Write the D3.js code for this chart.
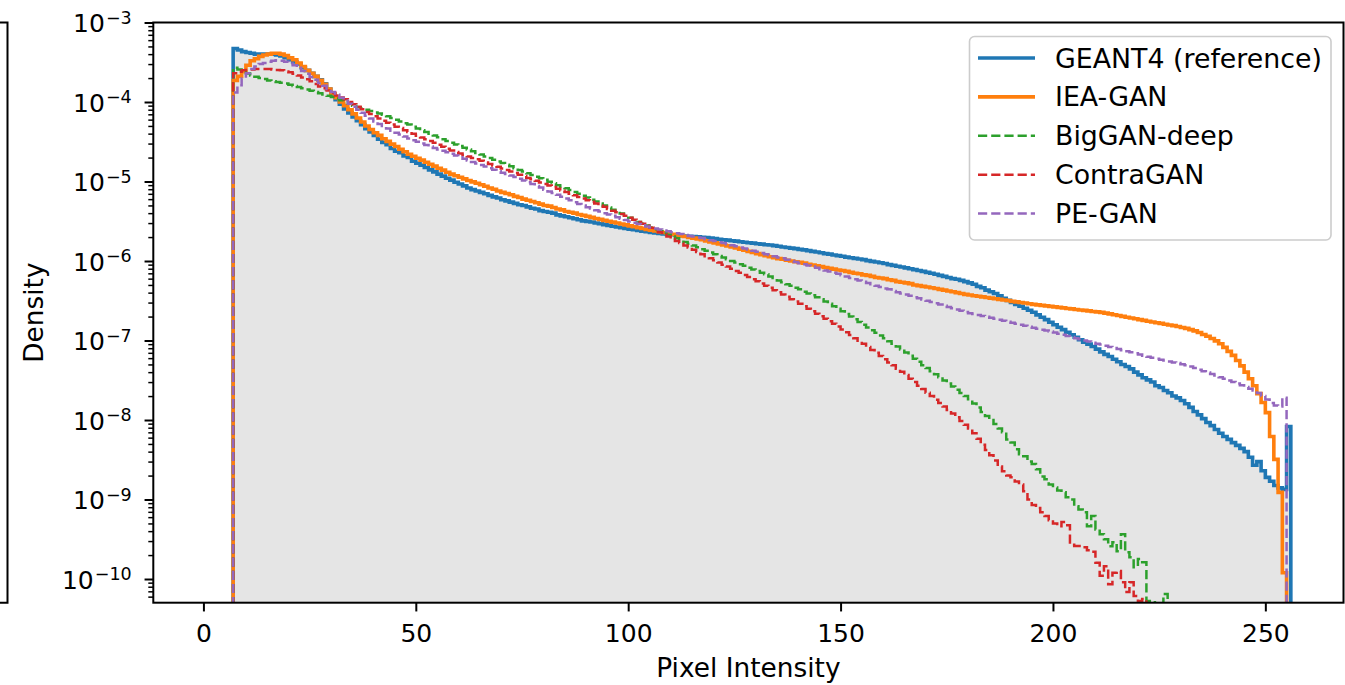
<!DOCTYPE html>
<html>
<head>
<meta charset="utf-8">
<script src="https://cdn.jsdelivr.net/npm/d3@7"></script>
<style>
  body { margin: 0; background: #fff; }
  svg text { font-family: "DejaVu Sans", sans-serif; fill: #000; }
</style>
</head>
<body>
<svg id="chart" width="1345" height="685"></svg>
<script>
// densities, one value per unit-wide bin, first bin starts at pixel intensity 7
const binStart = 7;

const geant4 = [
  4.7e-4, 4.5e-4, 4.3e-4, 4.2e-4, 4.1e-4, 4.0e-4, 4.0e-4, 4.0e-4, 4.0e-4, 4.0e-4,
  3.9e-4, 3.8e-4, 3.6e-4, 3.4e-4, 3.2e-4, 3.0e-4, 2.7e-4, 2.5e-4, 2.3e-4, 2.1e-4,
  1.9e-4, 1.7e-4, 1.45e-4, 1.23e-4, 1.07e-4, 9.4e-5, 8.2e-5, 7.3e-5, 6.5e-5, 5.8e-5,
  5.2e-5, 4.6e-5, 4.2e-5, 3.8e-5, 3.4e-5, 3.1e-5, 2.9e-5, 2.6e-5, 2.4e-5, 2.3e-5,
  2.1e-5, 2.0e-5, 1.8e-5, 1.7e-5, 1.6e-5, 1.5e-5, 1.4e-5, 1.32e-5, 1.24e-5, 1.17e-5,
  1.1e-5, 1.04e-5, 9.8e-6, 9.3e-6, 8.8e-6, 8.3e-6, 7.9e-6, 7.6e-6, 7.3e-6, 7.0e-6,
  6.7e-6, 6.4e-6, 6.2e-6, 5.9e-6, 5.7e-6, 5.5e-6, 5.3e-6, 5.1e-6, 5.0e-6, 4.8e-6,
  4.6e-6, 4.5e-6, 4.3e-6, 4.2e-6, 4.1e-6, 4.0e-6, 3.8e-6, 3.7e-6, 3.6e-6, 3.5e-6,
  3.4e-6, 3.3e-6, 3.2e-6, 3.15e-6, 3.1e-6, 3.0e-6, 2.94e-6, 2.87e-6, 2.81e-6, 2.74e-6,
  2.68e-6, 2.63e-6, 2.57e-6, 2.52e-6, 2.47e-6, 2.42e-6, 2.37e-6, 2.33e-6, 2.29e-6, 2.25e-6,
  2.22e-6, 2.19e-6, 2.16e-6, 2.14e-6, 2.11e-6, 2.09e-6, 2.06e-6, 2.05e-6, 2.03e-6, 2.01e-6,
  1.99e-6, 1.97e-6, 1.94e-6, 1.91e-6, 1.88e-6, 1.85e-6, 1.83e-6, 1.8e-6, 1.78e-6, 1.75e-6,
  1.72e-6, 1.7e-6, 1.68e-6, 1.65e-6, 1.63e-6, 1.6e-6, 1.59e-6, 1.56e-6, 1.53e-6, 1.5e-6,
  1.48e-6, 1.45e-6, 1.43e-6, 1.4e-6, 1.38e-6, 1.35e-6, 1.32e-6, 1.3e-6, 1.27e-6, 1.24e-6,
  1.22e-6, 1.19e-6, 1.17e-6, 1.15e-6, 1.12e-6, 1.1e-6, 1.08e-6, 1.06e-6, 1.04e-6, 1.01e-6,
  9.9e-7, 9.7e-7, 9.5e-7, 9.3e-7, 9.0e-7, 8.8e-7, 8.6e-7, 8.4e-7, 8.2e-7, 8.0e-7,
  7.8e-7, 7.6e-7, 7.4e-7, 7.2e-7, 7.0e-7, 6.8e-7, 6.6e-7, 6.4e-7, 6.2e-7, 6.0e-7,
  5.9e-7, 5.7e-7, 5.5e-7, 5.3e-7, 5.1e-7, 4.8e-7, 4.6e-7, 4.3e-7, 4.1e-7, 3.9e-7,
  3.65e-7, 3.4e-7, 3.2e-7, 3.0e-7, 2.85e-7, 2.7e-7, 2.55e-7, 2.4e-7, 2.27e-7, 2.1e-7,
  1.96e-7, 1.83e-7, 1.7e-7, 1.58e-7, 1.47e-7, 1.37e-7, 1.27e-7, 1.18e-7, 1.1e-7, 1.02e-7,
  9.5e-8, 9.0e-8, 8.4e-8, 7.8e-8, 7.2e-8, 6.7e-8, 6.3e-8, 5.8e-8, 5.4e-8, 5.0e-8,
  4.7e-8, 4.4e-8, 4.0e-8, 3.7e-8, 3.4e-8, 3.2e-8, 3.0e-8, 2.7e-8, 2.56e-8, 2.35e-8,
  2.2e-8, 2.0e-8, 1.9e-8, 1.76e-8, 1.6e-8, 1.44e-8, 1.28e-8, 1.16e-8, 1.04e-8, 9.3e-9,
  8.5e-9, 7.6e-9, 6.8e-9, 6.2e-9, 5.7e-9, 5.2e-9, 4.8e-9, 4.4e-9, 4.0e-9, 3.4e-9,
  2.7e-9, 3.0e-9, 2.3e-9, 1.9e-9, 1.7e-9, 1.5e-9, 1.4e-9, 1.34e-9, 8.3e-9
];

const ieaGan = [
  1.87e-4, 2.1e-4, 2.4e-4, 2.9e-4, 3.3e-4, 3.5e-4, 3.75e-4, 3.9e-4, 4.0e-4, 4.1e-4,
  4.1e-4, 4.0e-4, 3.85e-4, 3.6e-4, 3.4e-4, 3.1e-4, 2.8e-4, 2.5e-4, 2.3e-4, 2.1e-4,
  1.87e-4, 1.67e-4, 1.46e-4, 1.28e-4, 1.13e-4, 1.0e-4, 9.0e-5, 8.0e-5, 7.1e-5, 6.3e-5,
  5.6e-5, 5.0e-5, 4.5e-5, 4.1e-5, 3.8e-5, 3.45e-5, 3.2e-5, 2.95e-5, 2.75e-5, 2.55e-5,
  2.37e-5, 2.2e-5, 2.08e-5, 1.96e-5, 1.86e-5, 1.75e-5, 1.65e-5, 1.56e-5, 1.47e-5, 1.39e-5,
  1.31e-5, 1.24e-5, 1.18e-5, 1.13e-5, 1.08e-5, 1.03e-5, 9.9e-6, 9.5e-6, 9.1e-6, 8.7e-6,
  8.3e-6, 8.0e-6, 7.6e-6, 7.3e-6, 7.05e-6, 6.8e-6, 6.5e-6, 6.3e-6, 6.0e-6, 5.8e-6,
  5.6e-6, 5.4e-6, 5.2e-6, 5.0e-6, 4.9e-6, 4.7e-6, 4.5e-6, 4.4e-6, 4.2e-6, 4.1e-6,
  4.0e-6, 3.85e-6, 3.75e-6, 3.64e-6, 3.54e-6, 3.43e-6, 3.34e-6, 3.24e-6, 3.16e-6, 3.08e-6,
  3.0e-6, 2.92e-6, 2.85e-6, 2.77e-6, 2.7e-6, 2.63e-6, 2.57e-6, 2.5e-6, 2.44e-6, 2.38e-6,
  2.33e-6, 2.28e-6, 2.23e-6, 2.17e-6, 2.12e-6, 2.07e-6, 2.03e-6, 1.98e-6, 1.94e-6, 1.9e-6,
  1.85e-6, 1.79e-6, 1.74e-6, 1.69e-6, 1.64e-6, 1.59e-6, 1.55e-6, 1.5e-6, 1.46e-6, 1.41e-6,
  1.37e-6, 1.32e-6, 1.28e-6, 1.24e-6, 1.2e-6, 1.17e-6, 1.13e-6, 1.1e-6, 1.07e-6, 1.05e-6,
  1.02e-6, 1.0e-6, 9.8e-7, 9.6e-7, 9.4e-7, 9.1e-7, 8.9e-7, 8.7e-7, 8.5e-7, 8.3e-7,
  8.1e-7, 7.9e-7, 7.7e-7, 7.6e-7, 7.4e-7, 7.2e-7, 7.0e-7, 6.9e-7, 6.7e-7, 6.6e-7,
  6.4e-7, 6.2e-7, 6.1e-7, 6.0e-7, 5.8e-7, 5.7e-7, 5.5e-7, 5.4e-7, 5.3e-7, 5.2e-7,
  5.0e-7, 4.9e-7, 4.8e-7, 4.7e-7, 4.6e-7, 4.5e-7, 4.4e-7, 4.3e-7, 4.2e-7, 4.1e-7,
  4.0e-7, 3.9e-7, 3.8e-7, 3.74e-7, 3.66e-7, 3.6e-7, 3.54e-7, 3.47e-7, 3.41e-7, 3.35e-7,
  3.29e-7, 3.23e-7, 3.18e-7, 3.11e-7, 3.06e-7, 3.01e-7, 2.96e-7, 2.9e-7, 2.85e-7, 2.81e-7,
  2.77e-7, 2.73e-7, 2.69e-7, 2.65e-7, 2.61e-7, 2.57e-7, 2.53e-7, 2.5e-7, 2.46e-7, 2.42e-7,
  2.39e-7, 2.36e-7, 2.32e-7, 2.29e-7, 2.26e-7, 2.21e-7, 2.16e-7, 2.11e-7, 2.06e-7, 2.01e-7,
  1.96e-7, 1.92e-7, 1.88e-7, 1.83e-7, 1.79e-7, 1.75e-7, 1.71e-7, 1.67e-7, 1.64e-7, 1.6e-7,
  1.57e-7, 1.54e-7, 1.5e-7, 1.46e-7, 1.42e-7, 1.37e-7, 1.32e-7, 1.26e-7, 1.19e-7, 1.13e-7,
  1.06e-7, 9.9e-8, 9.1e-8, 8.2e-8, 7.3e-8, 6.5e-8, 5.6e-8, 4.8e-8, 4.0e-8, 3.3e-8,
  2.7e-8, 2.15e-8, 1.66e-8, 1.24e-8, 6.2e-9, 3.2e-9, 1.23e-9, 1.2e-10
];

const bigganDeep = [
  2.7e-4, 2.57e-4, 2.42e-4, 2.29e-4, 2.16e-4, 2.08e-4, 2.0e-4, 1.94e-4, 1.87e-4, 1.83e-4,
  1.79e-4, 1.75e-4, 1.71e-4, 1.65e-4, 1.59e-4, 1.54e-4, 1.49e-4, 1.44e-4, 1.39e-4, 1.34e-4,
  1.29e-4, 1.24e-4, 1.2e-4, 1.16e-4, 1.11e-4, 1.05e-4, 1.0e-4, 9.5e-5, 9.0e-5, 8.6e-5,
  8.3e-5, 8.0e-5, 7.7e-5, 7.4e-5, 7.15e-5, 6.9e-5, 6.6e-5, 6.3e-5, 6.0e-5, 5.7e-5,
  5.4e-5, 5.2e-5, 4.9e-5, 4.65e-5, 4.4e-5, 4.2e-5, 4.0e-5, 3.78e-5, 3.59e-5, 3.4e-5,
  3.23e-5, 3.08e-5, 2.93e-5, 2.79e-5, 2.66e-5, 2.53e-5, 2.41e-5, 2.29e-5, 2.18e-5, 2.07e-5,
  1.98e-5, 1.88e-5, 1.79e-5, 1.71e-5, 1.63e-5, 1.55e-5, 1.47e-5, 1.4e-5, 1.34e-5, 1.27e-5,
  1.21e-5, 1.15e-5, 1.1e-5, 1.05e-5, 9.9e-6, 9.5e-6, 9.0e-6, 8.6e-6, 8.2e-6, 7.8e-6,
  7.4e-6, 7.0e-6, 6.6e-6, 6.3e-6, 5.9e-6, 5.6e-6, 5.3e-6, 5.0e-6, 4.7e-6, 4.4e-6,
  4.2e-6, 3.95e-6, 3.73e-6, 3.5e-6, 3.3e-6, 3.1e-6, 2.96e-6, 2.8e-6, 2.64e-6, 2.5e-6,
  2.38e-6, 2.26e-6, 2.14e-6, 2.03e-6, 1.93e-6, 1.83e-6, 1.74e-6, 1.65e-6, 1.57e-6, 1.49e-6,
  1.41e-6, 1.35e-6, 1.28e-6, 1.22e-6, 1.16e-6, 1.11e-6, 1.05e-6, 1.0e-6, 9.55e-7, 9.1e-7,
  8.7e-7, 8.2e-7, 7.8e-7, 7.5e-7, 7.1e-7, 6.8e-7, 6.4e-7, 6.1e-7, 5.7e-7, 5.4e-7,
  5.1e-7, 4.9e-7, 4.6e-7, 4.4e-7, 4.1e-7, 3.9e-7, 3.7e-7, 3.5e-7, 3.3e-7, 3.1e-7,
  2.9e-7, 2.7e-7, 2.5e-7, 2.34e-7, 2.16e-7, 2.0e-7, 1.85e-7, 1.71e-7, 1.58e-7, 1.46e-7,
  1.35e-7, 1.25e-7, 1.16e-7, 1.07e-7, 9.8e-8, 9.1e-8, 8.4e-8, 7.7e-8, 7.05e-8, 6.45e-8,
  5.9e-8, 5.4e-8, 4.9e-8, 4.5e-8, 4.1e-8, 3.77e-8, 3.44e-8, 3.15e-8, 2.88e-8, 2.63e-8,
  2.4e-8, 2.19e-8, 2.0e-8, 1.82e-8, 1.61e-8, 1.44e-8, 1.26e-8, 1.12e-8, 1.0e-8, 8.9e-9,
  7.8e-9, 7.0e-9, 5.7e-9, 5.2e-9, 4.3e-9, 3.7e-9, 3.5e-9, 3.0e-9, 2.8e-9, 2.4e-9,
  1.95e-9, 1.8e-9, 1.55e-9, 1.42e-9, 1.3e-9, 1.23e-9, 1.07e-9, 1.0e-9, 8.2e-10, 7.5e-10,
  6.9e-10, 4.6e-10, 6.2e-10, 4.2e-10, 3.66e-10, 3.16e-10, 2.58e-10, 2.9e-10, 2.24e-10, 3.66e-10,
  2.17e-10, 1.88e-10, 1.41e-10, 1.78e-10, 1.63e-10, 5.3e-11, 5.3e-11, 0, 0, 6.5e-11
];

const contraGan = [
  2.3e-4, 2.4e-4, 2.5e-4, 2.53e-4, 2.57e-4, 2.6e-4, 2.6e-4, 2.6e-4, 2.6e-4, 2.57e-4,
  2.53e-4, 2.5e-4, 2.42e-4, 2.36e-4, 2.26e-4, 2.16e-4, 2.04e-4, 1.93e-4, 1.82e-4, 1.69e-4,
  1.57e-4, 1.49e-4, 1.4e-4, 1.3e-4, 1.21e-4, 1.14e-4, 1.08e-4, 1.0e-4, 9.4e-5, 8.7e-5,
  8.1e-5, 7.5e-5, 7.05e-5, 6.6e-5, 6.2e-5, 5.8e-5, 5.5e-5, 5.2e-5, 4.9e-5, 4.7e-5,
  4.4e-5, 4.2e-5, 4.0e-5, 3.77e-5, 3.58e-5, 3.39e-5, 3.23e-5, 3.08e-5, 2.9e-5, 2.74e-5,
  2.58e-5, 2.46e-5, 2.35e-5, 2.25e-5, 2.16e-5, 2.07e-5, 1.98e-5, 1.9e-5, 1.82e-5, 1.74e-5,
  1.66e-5, 1.59e-5, 1.53e-5, 1.46e-5, 1.4e-5, 1.34e-5, 1.28e-5, 1.22e-5, 1.17e-5, 1.11e-5,
  1.07e-5, 1.02e-5, 9.7e-6, 9.3e-6, 8.9e-6, 8.5e-6, 8.1e-6, 7.7e-6, 7.4e-6, 7.0e-6,
  6.7e-6, 6.4e-6, 6.1e-6, 5.8e-6, 5.55e-6, 5.3e-6, 5.0e-6, 4.8e-6, 4.5e-6, 4.3e-6,
  4.1e-6, 3.9e-6, 3.7e-6, 3.5e-6, 3.3e-6, 3.1e-6, 2.95e-6, 2.78e-6, 2.62e-6, 2.45e-6,
  2.3e-6, 2.16e-6, 2.03e-6, 1.9e-6, 1.79e-6, 1.68e-6, 1.57e-6, 1.48e-6, 1.39e-6, 1.3e-6,
  1.22e-6, 1.15e-6, 1.08e-6, 1.02e-6, 9.6e-7, 9.0e-7, 8.5e-7, 8.0e-7, 7.5e-7, 7.1e-7,
  6.65e-7, 6.3e-7, 5.9e-7, 5.55e-7, 5.2e-7, 4.9e-7, 4.6e-7, 4.3e-7, 4.05e-7, 3.8e-7,
  3.55e-7, 3.3e-7, 3.1e-7, 2.9e-7, 2.7e-7, 2.5e-7, 2.33e-7, 2.17e-7, 2.02e-7, 1.88e-7,
  1.75e-7, 1.63e-7, 1.5e-7, 1.38e-7, 1.27e-7, 1.17e-7, 1.07e-7, 9.9e-8, 9.1e-8, 8.3e-8,
  7.6e-8, 7.0e-8, 6.4e-8, 5.8e-8, 5.3e-8, 4.9e-8, 4.4e-8, 4.06e-8, 3.67e-8, 3.3e-8,
  3.0e-8, 2.7e-8, 2.45e-8, 2.2e-8, 2.0e-8, 1.8e-8, 1.64e-8, 1.48e-8, 1.34e-8, 1.21e-8,
  1.08e-8, 9.7e-9, 8.7e-9, 7.8e-9, 6.8e-9, 5.8e-9, 4.9e-9, 4.2e-9, 3.6e-9, 3.1e-9,
  2.6e-9, 2.26e-9, 2.0e-9, 1.9e-9, 1.69e-9, 1.55e-9, 1.27e-9, 1.0e-9, 8.5e-10, 7.8e-10,
  6.9e-10, 6.2e-10, 5.5e-10, 5.0e-10, 4.6e-10, 5.2e-10, 4.75e-10, 2.7e-10, 2.6e-10, 2.6e-10,
  2.5e-10, 2.3e-10, 2.2e-10, 1.6e-10, 1.1e-10, 1.45e-10, 8.6e-11, 1.2e-10, 1.26e-10, 9.1e-11,
  6.85e-11, 9.1e-11, 6.1e-11, 5.3e-11, 5.6e-11
];

const peGan = [
  1.32e-4, 1.62e-4, 1.98e-4, 2.3e-4, 2.6e-4, 2.8e-4, 3.0e-4, 3.1e-4, 3.2e-4, 3.3e-4,
  3.35e-4, 3.3e-4, 3.2e-4, 3.06e-4, 2.9e-4, 2.7e-4, 2.46e-4, 2.26e-4, 2.07e-4, 1.9e-4,
  1.74e-4, 1.6e-4, 1.46e-4, 1.34e-4, 1.23e-4, 1.13e-4, 1.04e-4, 9.5e-5, 8.7e-5, 8.0e-5,
  7.3e-5, 6.7e-5, 6.2e-5, 5.7e-5, 5.3e-5, 5.0e-5, 4.65e-5, 4.36e-5, 4.1e-5, 3.9e-5,
  3.67e-5, 3.48e-5, 3.3e-5, 3.16e-5, 3.0e-5, 2.88e-5, 2.76e-5, 2.64e-5, 2.53e-5, 2.43e-5,
  2.34e-5, 2.23e-5, 2.12e-5, 2.02e-5, 1.93e-5, 1.84e-5, 1.76e-5, 1.68e-5, 1.61e-5, 1.54e-5,
  1.47e-5, 1.41e-5, 1.35e-5, 1.29e-5, 1.24e-5, 1.19e-5, 1.14e-5, 1.08e-5, 1.03e-5, 9.8e-6,
  9.3e-6, 8.8e-6, 8.4e-6, 7.9e-6, 7.5e-6, 7.15e-6, 6.8e-6, 6.45e-6, 6.1e-6, 5.8e-6,
  5.5e-6, 5.2e-6, 5.0e-6, 4.76e-6, 4.56e-6, 4.36e-6, 4.18e-6, 4.0e-6, 3.85e-6, 3.7e-6,
  3.56e-6, 3.41e-6, 3.28e-6, 3.15e-6, 3.03e-6, 2.92e-6, 2.81e-6, 2.72e-6, 2.63e-6, 2.56e-6,
  2.49e-6, 2.42e-6, 2.36e-6, 2.3e-6, 2.24e-6, 2.18e-6, 2.12e-6, 2.07e-6, 2.03e-6, 1.98e-6,
  1.94e-6, 1.88e-6, 1.83e-6, 1.78e-6, 1.72e-6, 1.68e-6, 1.63e-6, 1.58e-6, 1.53e-6, 1.48e-6,
  1.44e-6, 1.39e-6, 1.35e-6, 1.31e-6, 1.26e-6, 1.22e-6, 1.19e-6, 1.15e-6, 1.11e-6, 1.08e-6,
  1.04e-6, 1.01e-6, 9.7e-7, 9.4e-7, 9.1e-7, 8.75e-7, 8.5e-7, 8.2e-7, 7.9e-7, 7.6e-7,
  7.4e-7, 7.1e-7, 6.9e-7, 6.6e-7, 6.4e-7, 6.1e-7, 5.9e-7, 5.7e-7, 5.5e-7, 5.3e-7,
  5.1e-7, 4.9e-7, 4.7e-7, 4.5e-7, 4.4e-7, 4.2e-7, 4.06e-7, 3.9e-7, 3.78e-7, 3.65e-7,
  3.51e-7, 3.39e-7, 3.27e-7, 3.16e-7, 3.04e-7, 2.94e-7, 2.83e-7, 2.73e-7, 2.63e-7, 2.54e-7,
  2.45e-7, 2.37e-7, 2.28e-7, 2.21e-7, 2.15e-7, 2.09e-7, 2.04e-7, 1.99e-7, 1.93e-7, 1.88e-7,
  1.83e-7, 1.77e-7, 1.72e-7, 1.67e-7, 1.63e-7, 1.58e-7, 1.53e-7, 1.49e-7, 1.45e-7, 1.41e-7,
  1.37e-7, 1.34e-7, 1.3e-7, 1.26e-7, 1.22e-7, 1.18e-7, 1.14e-7, 1.11e-7, 1.07e-7, 1.04e-7,
  1.0e-7, 9.7e-8, 9.4e-8, 9.1e-8, 8.9e-8, 8.6e-8, 8.3e-8, 8.05e-8, 7.8e-8, 7.56e-8,
  7.3e-8, 7.1e-8, 6.9e-8, 6.65e-8, 6.45e-8, 6.24e-8, 6.05e-8, 5.9e-8, 5.74e-8, 5.6e-8,
  5.45e-8, 5.3e-8, 5.2e-8, 5.04e-8, 4.9e-8, 4.7e-8, 4.5e-8, 4.3e-8, 4.1e-8, 3.95e-8,
  3.78e-8, 3.62e-8, 3.45e-8, 3.3e-8, 3.15e-8, 3.0e-8, 2.87e-8, 2.73e-8, 2.6e-8, 2.48e-8,
  2.35e-8, 2.18e-8, 2.0e-8, 1.81e-8, 1.64e-8, 1.52e-8, 1.48e-8, 1.91e-8
];

const seriesNames = ["GEANT4 (reference)", "IEA-GAN", "BigGAN-deep", "ContraGAN", "PE-GAN"];
const seriesColors = ["#1f77b4", "#ff7f0e", "#2ca02c", "#d62728", "#9467bd"];
const seriesDashed = [false, false, true, true, true];
const xTicks = [0, 50, 100, 150, 200, 250];
const yTickExps = [-3, -4, -5, -6, -7, -8, -9, -10];

const width = 1345;
const height = 685;
const margin = { top: 22.5, right: 1.5, bottom: 82.3, left: 153.3 };
const innerW = width - margin.left - margin.right;
const innerH = height - margin.top - margin.bottom;

const svg = d3.select("#chart");

const x = d3.scaleLinear().domain([-11.8, 268.4]).range([0, innerW]);
const y = d3.scaleLog().domain([Math.pow(10, -10.298), 1e-3]).range([innerH, 0]);

// edge of the neighbouring panel that is cut off on the left
svg.append("path")
  .attr("d", `M0,${margin.top}H7.5V${margin.top + innerH}H0`)
  .attr("fill", "none")
  .attr("stroke", "#000")
  .attr("stroke-width", 2);

const g = svg.append("g").attr("transform", `translate(${margin.left},${margin.top})`);

g.append("clipPath").attr("id", "plotclip")
  .append("rect").attr("width", innerW).attr("height", innerH);

// step path of a histogram, dropping to the floor at both ends
function stepPath(values, close) {
  const floor = innerH + 30;
  let p = `M${x(binStart)},${floor}`;
  values.forEach((v, i) => {
    const yy = v > 0 ? y(v) : floor;
    p += `L${x(binStart + i)},${yy}L${x(binStart + i + 1)},${yy}`;
  });
  p += `L${x(binStart + values.length)},${floor}`;
  return close ? p + "Z" : p;
}

const plot = g.append("g").attr("clip-path", "url(#plotclip)");

plot.append("path")
  .attr("d", stepPath(geant4, true))
  .attr("fill", "#e5e5e5")
  .attr("stroke", "none");

const allSeries = [geant4, ieaGan, bigganDeep, contraGan, peGan];
allSeries.forEach((vals, i) => {
  plot.append("path")
    .attr("d", stepPath(vals, false))
    .attr("fill", "none")
    .attr("stroke", seriesColors[i])
    .attr("stroke-width", seriesDashed[i] ? 2.5 : 3.6)
    .attr("stroke-dasharray", seriesDashed[i] ? "9.2,4" : null)
    .attr("stroke-linejoin", "miter");
});

// x axis
const xAxis = g.append("g")
  .attr("transform", `translate(0,${innerH})`)
  .call(d3.axisBottom(x).tickValues(xTicks).tickSize(8.75).tickFormat(d3.format("d")));
xAxis.select(".domain").remove();
xAxis.selectAll(".tick line").attr("stroke", "#000").attr("stroke-width", 2);
xAxis.selectAll(".tick text")
  .attr("y", 39.3).attr("dy", null)
  .attr("font-size", 25)
  .attr("font-family", "DejaVu Sans");

// y axis: major and minor ticks
const minorVals = [];
for (let e = -11; e <= -4; e++) {
  for (let m = 2; m <= 9; m++) {
    const v = m * Math.pow(10, e);
    if (v >= y.domain()[0] && v <= y.domain()[1]) minorVals.push(v);
  }
}
const yMinor = g.append("g")
  .call(d3.axisLeft(y).tickValues(minorVals).tickSize(5).tickFormat(""));
yMinor.select(".domain").remove();
yMinor.selectAll(".tick line").attr("stroke", "#000").attr("stroke-width", 1.5);

const yMajor = g.append("g")
  .call(d3.axisLeft(y).tickValues(yTickExps.map(e => Math.pow(10, e))).tickSize(8.75).tickFormat(""));
yMajor.select(".domain").remove();
yMajor.selectAll(".tick line").attr("stroke", "#000").attr("stroke-width", 2);

const yLabels = g.append("g");
yTickExps.forEach(e => {
  const t = yLabels.append("text")
    .attr("x", -21.6)
    .attr("y", y(Math.pow(10, e)) + 9.8)
    .attr("text-anchor", "end")
    .attr("font-size", 25);
  t.append("tspan").text("10");
  t.append("tspan")
    .attr("dy", -8.5)
    .attr("dx", 1)
    .attr("font-size", 17.5)
    .text("\u2212" + Math.abs(e));
});

// spines
g.append("rect")
  .attr("width", innerW).attr("height", innerH)
  .attr("fill", "none")
  .attr("stroke", "#000")
  .attr("stroke-width", 2);

// axis titles
g.append("text")
  .attr("x", innerW / 2)
  .attr("y", 677 - margin.top)
  .attr("text-anchor", "middle")
  .attr("font-size", 26.4)
  .text("Pixel Intensity");

g.append("text")
  .attr("transform", `translate(${43 - margin.left},${innerH / 2}) rotate(-90)`)
  .attr("text-anchor", "middle")
  .attr("font-size", 26.4)
  .text("Density");

// legend
const legend = svg.append("g");
legend.append("rect")
  .attr("x", 969.5).attr("y", 36.5)
  .attr("width", 361.5).attr("height", 203.5)
  .attr("rx", 5)
  .attr("fill", "#fff").attr("fill-opacity", 0.8)
  .attr("stroke", "#cccccc").attr("stroke-width", 1.6);

seriesNames.forEach((name, i) => {
  const cy = 58 + i * 38.9;
  legend.append("line")
    .attr("x1", 978).attr("x2", 1035)
    .attr("y1", cy).attr("y2", cy)
    .attr("stroke", seriesColors[i])
    .attr("stroke-width", seriesDashed[i] ? 2.5 : 3.6)
    .attr("stroke-dasharray", seriesDashed[i] ? "9.2,4" : null);
  legend.append("text")
    .attr("x", 1055)
    .attr("y", cy + 9.5)
    .attr("font-size", 26.8)
    .text(name);
});
</script>
</body>
</html>
